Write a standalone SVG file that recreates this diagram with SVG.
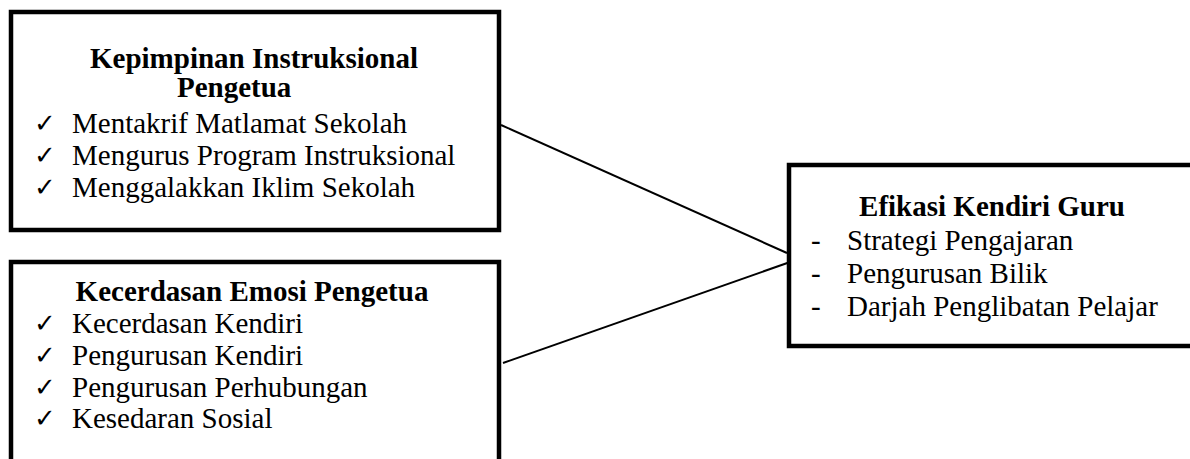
<svg xmlns="http://www.w3.org/2000/svg" width="1190" height="459" viewBox="0 0 1190 459">
<style>
.box{fill:#fff;stroke:#000;stroke-width:4.5}
.t{font-family:"Liberation Serif","Times New Roman",serif;font-size:29px;fill:#000}
.b{font-weight:bold}
.ck{font-family:"DejaVu Sans",sans-serif;font-size:26px;fill:#000}
.ln{stroke:#000;stroke-width:2;fill:none}
</style>
<rect width="1190" height="459" fill="#fff"/>
<g id="connectors">
<line class="ln" x1="501" y1="125" x2="787" y2="253"/>
<line class="ln" x1="503" y1="363" x2="793" y2="261"/>
</g>
<g id="node-kepimpinan">
<rect class="box" x="11" y="12" width="488" height="218"/>
<text class="t b" x="254" y="68" text-anchor="middle">Kepimpinan Instruksional</text>
<text class="t b" x="177" y="97">Pengetua</text>
<text class="ck" x="34" y="132">✓</text>
<text class="t" x="72" y="133">Mentakrif Matlamat Sekolah</text>
<text class="ck" x="34" y="164">✓</text>
<text class="t" x="72" y="165">Mengurus Program Instruksional</text>
<text class="ck" x="34" y="196">✓</text>
<text class="t" x="72" y="197">Menggalakkan Iklim Sekolah</text>
</g>
<g id="node-kecerdasan">
<rect class="box" x="11" y="262" width="488" height="230"/>
<text class="t b" x="252" y="301" text-anchor="middle">Kecerdasan Emosi Pengetua</text>
<text class="ck" x="34" y="332">✓</text>
<text class="t" x="72" y="333">Kecerdasan Kendiri</text>
<text class="ck" x="34" y="364">✓</text>
<text class="t" x="72" y="365">Pengurusan Kendiri</text>
<text class="ck" x="34" y="396">✓</text>
<text class="t" x="72" y="397">Pengurusan Perhubungan</text>
<text class="ck" x="34" y="427">✓</text>
<text class="t" x="72" y="428">Kesedaran Sosial</text>
</g>
<g id="node-efikasi">
<rect class="box" x="789" y="165" width="420" height="181"/>
<text class="t b" x="992" y="216" text-anchor="middle">Efikasi Kendiri Guru</text>
<text class="t" x="811" y="250">-</text>
<text class="t" x="847" y="250">Strategi Pengajaran</text>
<text class="t" x="811" y="283">-</text>
<text class="t" x="847" y="283">Pengurusan Bilik</text>
<text class="t" x="811" y="316">-</text>
<text class="t" x="847" y="316">Darjah Penglibatan Pelajar</text>
</g>
</svg>
